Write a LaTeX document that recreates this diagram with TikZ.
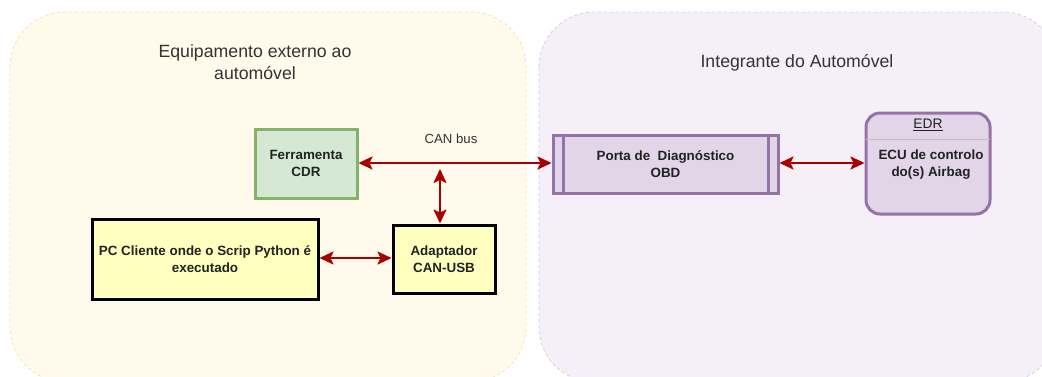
\documentclass[tikz,border=0pt]{standalone}
\usepackage{fontspec}
\setmainfont{Liberation Sans}
\usetikzlibrary{arrows.meta,calc}
\definecolor{creamfill}{HTML}{FFFAEC}
\definecolor{creamline}{HTML}{F3E3B0}
\definecolor{lavfill}{HTML}{F5F0F7}
\definecolor{lavline}{HTML}{D6CCE0}
\definecolor{greenfill}{HTML}{D5E8D4}
\definecolor{greenline}{HTML}{82B366}
\definecolor{yellowfill}{HTML}{FFFFC0}
\definecolor{purplefill}{HTML}{E1D5E7}
\definecolor{purpleline}{HTML}{9673A6}
\definecolor{arrowred}{HTML}{A80000}
\definecolor{txt}{HTML}{222222}
\definecolor{titletxt}{HTML}{333333}
\tikzset{
  container/.style={dashed, line width=0.8pt, rounded corners=55pt},
  boxtext/.style={font=\fontsize{13.4}{17}\selectfont\bfseries, text=txt, align=center, inner sep=0pt},
  greenbox/.style={boxtext, draw=greenline, fill=greenfill, line width=3pt},
  yellowbox/.style={boxtext, draw=black, fill=yellowfill, line width=3pt},
  purplebox/.style={boxtext, draw=purpleline, fill=purplefill, line width=3pt},
  titlestyle/.style={font=\fontsize{17.7}{21.5}\selectfont, text=titletxt, align=center, inner sep=0pt},
  link/.style={draw=arrowred, line width=2.2pt, {Stealth[length=14pt,width=13pt,inset=3pt]}-{Stealth[length=14pt,width=13pt,inset=3pt]}}
}
\begin{document}
\begin{tikzpicture}[x=1pt,y=-1pt]
\useasboundingbox (0,0) rectangle (1042,376);
\clip (0,0) rectangle (1042,376);
\fill[white] (0,0) rectangle (1042,376);
% containers
\draw[container, draw=creamline, fill=creamfill] (10,12) rectangle (526,382);
\draw[container, draw=lavline, fill=lavfill] (539,12) rectangle (1058,382);
% titles
\node[titlestyle] (tleft) at (255,62) {Equipamento externo ao\\automóvel};
\node[titlestyle] (tright) at (797,63) {Integrante do Automóvel};
% boxes
\node[greenbox, minimum width=102pt, minimum height=69pt] (cdr) at (306,163.5) {Ferramenta\\CDR};
\node[yellowbox, minimum width=226pt, minimum height=80pt] (pc) at (205,259) {PC Cliente onde o Scrip Python é\\executado};
\node[yellowbox, minimum width=102pt, minimum height=68pt] (adapt) at (444,259) {Adaptador\\CAN-USB};
\node[purplebox, minimum width=225pt, minimum height=58pt] (obd) at (665.5,164) {Porta de\ \ Diagnóstico\\OBD};
\draw[purpleline, line width=3pt] ($(obd.north west)+(11.5,0)$) -- ($(obd.south west)+(11.5,0)$);
\draw[purpleline, line width=3pt] ($(obd.north east)+(-11.5,0)$) -- ($(obd.south east)+(-11.5,0)$);
\node[purplebox, rounded corners=14pt, minimum width=124pt, minimum height=101pt] (edr) at (928,163.5) {};
\draw[line width=1.2pt, draw=black!25] ($(edr.north west)+(1.5,28)$) -- ($(edr.north east)+(-1.5,28)$);
\node[font=\fontsize{13.8}{17}\selectfont, text=txt, inner sep=0pt] (edrtitle) at (928,125) {\underline{EDR}};
\node[boxtext] (edrbody) at (931,165) {ECU de controlo\\do(s) Airbag};
% label
\node[font=\fontsize{13.2}{16}\selectfont, text=titletxt, inner sep=0pt] (canbus) at (451,139) {CAN bus};
% connectors
\coordinate (bustap) at (440,169);
\draw[link] (cdr.east |- 0,163) -- (obd.west |- 0,163);
\draw[link] (bustap) -- (adapt.north -| bustap);
\draw[link] (pc.east |- 0,258) -- (adapt.west |- 0,258);
\draw[link] (obd.east |- 0,163) -- (edr.west |- 0,163);
\end{tikzpicture}
\end{document}
